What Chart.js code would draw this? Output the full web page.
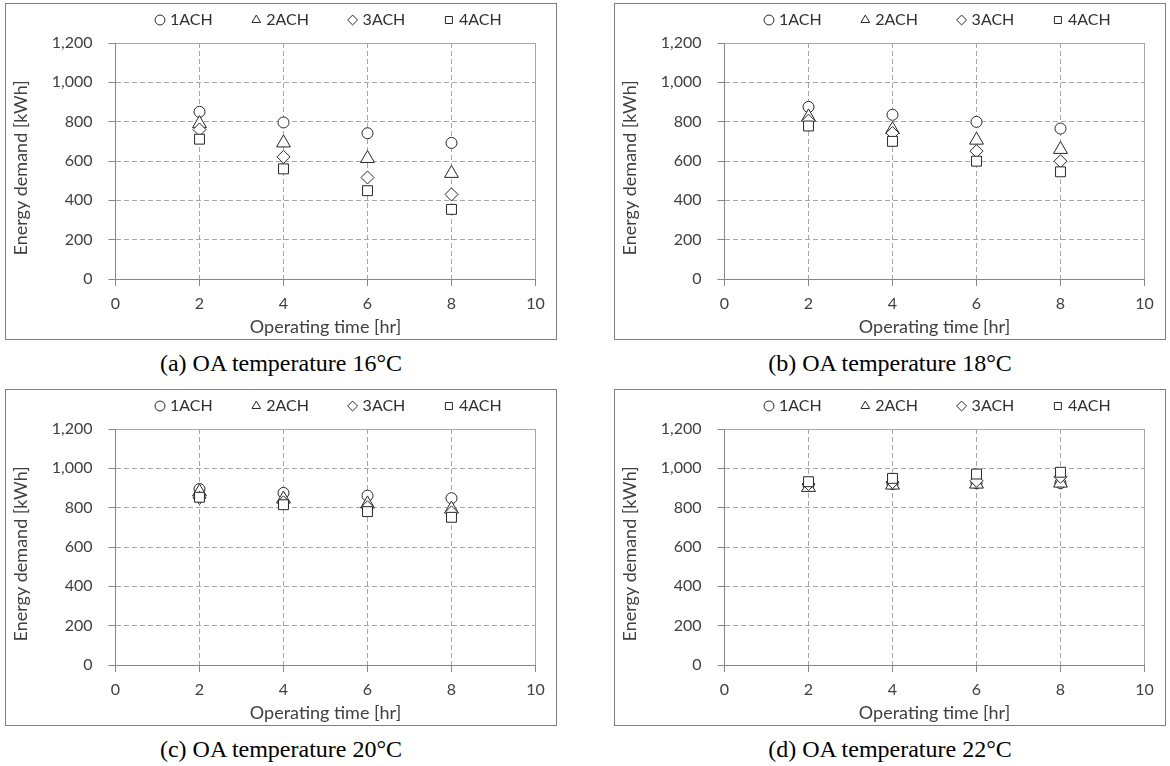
<!DOCTYPE html>
<html>
<head>
<meta charset="utf-8">
<script src="https://cdn.jsdelivr.net/npm/chart.js@4/dist/chart.umd.min.js"></script>
<style>
html,body{margin:0;padding:0;background:#fff;width:1170px;height:766px;overflow:hidden;position:relative;}
.panel{position:absolute;width:550px;height:335px;border:1px solid #7f7f7f;background:#fff;}
.panel canvas{display:block;}
.cap{position:absolute;width:552px;text-align:center;font-family:"Liberation Serif","Times New Roman",serif;font-size:24px;color:#000;line-height:28px;white-space:nowrap;}
</style>
</head>
<body>
<script>
// ---------------- data ----------------
const hours = [2, 4, 6, 8];
const seriesNames = ['1ACH', '2ACH', '3ACH', '4ACH'];
const xTicks = [0, 2, 4, 6, 8, 10];
const yTicks = [0, 200, 400, 600, 800, 1000, 1200];
const captions = ['(a) OA temperature 16°C', '(b) OA temperature 18°C', '(c) OA temperature 20°C', '(d) OA temperature 22°C'];
const xTitle = 'Operating time [hr]';
const yTitle = 'Energy demand [kWh]';

// (a) OA 16°C
const oa16_1ACH = [850, 796, 741, 692];
const oa16_2ACH = [790, 692, 613, 537];
const oa16_3ACH = [760, 621, 516, 430];
const oa16_4ACH = [711, 560, 449, 354];
// (b) OA 18°C
const oa18_1ACH = [875, 835, 799, 765];
const oa18_2ACH = [824, 760, 706, 659];
const oa18_3ACH = [805, 742, 650, 599];
const oa18_4ACH = [778, 700, 599, 545];
// (c) OA 20°C
const oa20_1ACH = [895, 875, 861, 848];
const oa20_2ACH = [880, 844, 819, 793];
const oa20_3ACH = [850, 827, 802, 776];
const oa20_4ACH = [853, 815, 780, 751];
// (d) OA 22°C
const oa22_1ACH = [915, 920, 925, 925];
const oa22_2ACH = [903, 915, 920, 925];
const oa22_3ACH = [920, 930, 937, 957];
const oa22_4ACH = [932, 949, 971, 980];

const panelSeries = [
  [oa16_1ACH, oa16_2ACH, oa16_3ACH, oa16_4ACH],
  [oa18_1ACH, oa18_2ACH, oa18_3ACH, oa18_4ACH],
  [oa20_1ACH, oa20_2ACH, oa20_3ACH, oa20_4ACH],
  [oa22_1ACH, oa22_2ACH, oa22_3ACH, oa22_4ACH]
];

// ---------------- styles / layout ----------------
const panelPos = [[5, 3], [614, 3], [5, 389], [614, 389]];
const markerStyle = ['circle', 'triangle', 'rectRot', 'rect'];
const markerRadius = [5.5, 8, 6.5, 7];
const FONT = 'Lato, "Open Sans", sans-serif';
const TEXT = '#404040';
const AXIS = '#868686';
const GRID = '#a6a6a6';
const MARK = '#262626';
const CANVAS_W = 550, CANVAS_H = 335;
const PLOT_LEFT = 109.5, PLOT_RIGHT = 529.5, PLOT_TOP = 39, PLOT_BOTTOM = 275;
const LEG_X0 = 152, LEG_CY = 16, LEG_BOXW = 4, LEG_PITCH = 96.3;

// measure legend text to get item pitch
const mctx = document.createElement('canvas').getContext('2d');
mctx.font = '16px ' + FONT;
const legTextW = mctx.measureText(seriesNames[0]).width;
const LEG_PAD = Math.max(4, LEG_PITCH - LEG_BOXW - 8 - legTextW);

const fixLayout = {
  id: 'fixLayout',
  beforeLayout(chart) {
    const lg = chart.legend;
    if (lg && !lg._fixedFit) {
      const fit = lg.fit;
      lg.fit = function () { fit.call(this); this.height = PLOT_TOP; };
      lg._fixedFit = true;
    }
  },
  afterLayout(chart) {
    const lg = chart.legend;
    if (!lg) return;
    const pad = lg.options.labels.padding;
    lg.left = LEG_X0 - pad;
    lg.right = chart.width + 400;
    lg.width = lg.right - lg.left;
    lg.top = LEG_CY - 8 - pad;
    lg.bottom = PLOT_TOP;
    lg.height = lg.bottom - lg.top;
  }
};

panelSeries.forEach((series, p) => {
  const div = document.createElement('div');
  div.className = 'panel';
  div.style.left = panelPos[p][0] + 'px';
  div.style.top = panelPos[p][1] + 'px';
  const cv = document.createElement('canvas');
  cv.width = CANVAS_W; cv.height = CANVAS_H;
  div.appendChild(cv);
  document.body.appendChild(div);

  const cap = document.createElement('div');
  cap.className = 'cap';
  cap.style.left = panelPos[p][0] + 'px';
  cap.style.top = (panelPos[p][1] + 346) + 'px';
  cap.textContent = captions[p];
  document.body.appendChild(cap);

  const datasets = series.map((vals, s) => ({
    label: seriesNames[s],
    data: hours.map((h, i) => ({ x: h, y: vals[i] })),
    showLine: false,
    pointStyle: markerStyle[s],
    pointRadius: markerRadius[s],
    pointHoverRadius: markerRadius[s],
    pointBorderColor: MARK,
    pointBackgroundColor: '#ffffff',
    pointBorderWidth: 1,
    borderColor: MARK,
    backgroundColor: '#ffffff',
    order: series.length - s
  }));

  const xMax = xTicks[xTicks.length - 1];
  const yMax = yTicks[yTicks.length - 1];

  new Chart(cv, {
    type: 'scatter',
    data: { datasets },
    plugins: [fixLayout],
    options: {
      responsive: false,
      animation: false,
      devicePixelRatio: 1,
      layout: { padding: { left: 0, right: CANVAS_W - PLOT_RIGHT, top: 0, bottom: 0 } },
      plugins: {
        tooltip: { enabled: false },
        legend: {
          display: true,
          position: 'top',
          align: 'start',
          labels: {
            usePointStyle: true,
            boxWidth: LEG_BOXW,
            boxHeight: 7,
            padding: LEG_PAD,
            color: '#303030',
            font: { family: FONT, size: 16 },
            sort: (a, b) => a.datasetIndex - b.datasetIndex
          }
        }
      },
      scales: {
        x: {
          type: 'linear',
          min: xTicks[0], max: xMax,
          afterFit: (sc) => { sc.height = CANVAS_H - PLOT_BOTTOM; },
          ticks: { stepSize: xTicks[1] - xTicks[0], padding: 8, color: TEXT, font: { family: FONT, size: 16 } },
          grid: {
            color: GRID, lineWidth: 1, tickLength: 7, tickColor: AXIS, tickBorderDash: []
          },
          border: {
            display: true, color: AXIS, width: 1,
            dash: (c) => (c.tick && c.tick.value === xMax) ? [] : [5, 3]
          },
          title: { display: true, text: xTitle, color: TEXT, font: { family: FONT, size: 18 }, padding: { top: 0, bottom: 1 } }
        },
        y: {
          type: 'linear',
          min: yTicks[0], max: yMax,
          afterFit: (sc) => { sc.width = PLOT_LEFT; },
          ticks: {
            stepSize: yTicks[1] - yTicks[0], padding: 16, color: TEXT, font: { family: FONT, size: 16 },
            callback: (v) => Number(v).toLocaleString('en-US')
          },
          grid: {
            color: GRID, lineWidth: 1, tickLength: 7, tickColor: AXIS, tickBorderDash: []
          },
          border: {
            display: true, color: AXIS, width: 1,
            dash: (c) => (c.tick && c.tick.value === yMax) ? [] : [5, 3]
          },
          title: { display: true, text: yTitle + '   ', color: TEXT, font: { family: FONT, size: 18 }, padding: { top: 4, bottom: 0 } }
        }
      }
    }
  });
});
</script>
</body>
</html>
